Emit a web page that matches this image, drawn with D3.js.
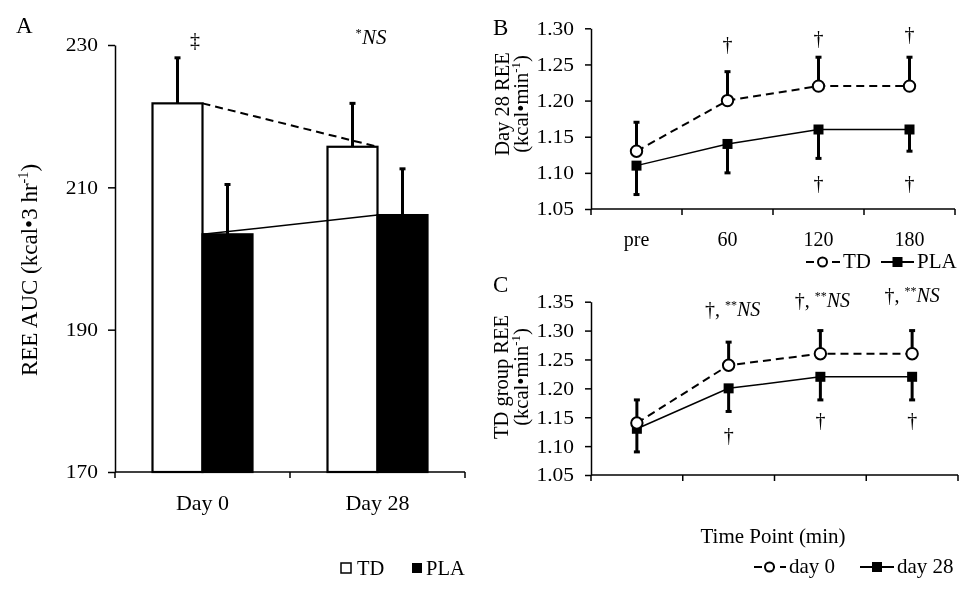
<!DOCTYPE html>
<html><head><meta charset="utf-8">
<script src="https://cdn.jsdelivr.net/npm/d3@7"></script>
<style>
body{margin:0;background:#fff}
svg{will-change:transform}
svg text{font-family:"Liberation Serif","Times New Roman",serif;fill:#000}
</style></head><body>
<svg id="chart" width="976" height="591"></svg>
<script>
// ---------- data ----------
const categoriesA = ["Day 0", "Day 28"];
const groupsA = ["TD", "PLA"];
const tdAUC = [221.8, 215.7];
const tdAUCErr = [6.4, 6.1];
const plaAUC = [203.4, 206.1];
const plaAUCErr = [7.0, 6.5];
const yTicksA = [170, 190, 210, 230];

const timePoints = ["pre", "60", "120", "180"];
const tdB = [1.13, 1.20, 1.22, 1.22];
const tdBErr = [0.04, 0.04, 0.04, 0.04];
const plaB = [1.11, 1.14, 1.16, 1.16];
const plaBErr = [0.04, 0.04, 0.04, 0.03];
const yTicksB = [1.05, 1.10, 1.15, 1.20, 1.25, 1.30];

const day0C = [1.14, 1.24, 1.26, 1.26];
const day0CErr = [0.04, 0.04, 0.04, 0.04];
const day28C = [1.13, 1.20, 1.22, 1.22];
const day28CErr = [0.04, 0.04, 0.04, 0.04];
const yTicksC = [1.05, 1.10, 1.15, 1.20, 1.25, 1.30, 1.35];

const annBAbove = ["", "†", "†", "†"];
const annBBelow = ["", "", "†", "†"];
const annCAbove = ["", "†, **NS", "†, **NS", "†, **NS"];
const annCBelow = ["", "†", "†", "†"];

// ---------- helpers ----------
const svg = d3.select("#chart");

function richText(g, x, y, str, size, anchor) {
  const t = g.append("text").attr("x", x).attr("y", y)
    .attr("text-anchor", anchor || "middle").style("font-size", size + "px");
  const re = /(\*+)|(NS)|([^*N]+|N)/g;
  let m, raised = false;
  while ((m = re.exec(str)) !== null) {
    if (m[1]) {
      t.append("tspan").attr("dy", -size * 0.35).style("font-size", (size * 0.6) + "px").text(m[1]);
      raised = true;
    } else if (m[2]) {
      const ts = t.append("tspan").style("font-style", "italic").text("NS");
      if (raised) { ts.attr("dy", size * 0.35); raised = false; }
    } else {
      const ts = t.append("tspan").text(m[3]);
      if (raised) { ts.attr("dy", size * 0.35); raised = false; }
    }
  }
  return t;
}

function rotLabel(g, x, y, main, sup, tail, size) {
  const t = g.append("text").attr("transform", `translate(${x},${y}) rotate(-90)`)
    .attr("text-anchor", "middle").style("font-size", size + "px");
  t.append("tspan").text(main);
  if (sup) {
    t.append("tspan").attr("dy", -size * 0.38).style("font-size", (size * 0.62) + "px").text(sup);
    t.append("tspan").attr("dy", size * 0.38).text(tail);
  }
  return t;
}

function styleYAxis(ax) {
  const s = 1.16;
  ax.select(".domain").attr("stroke", "#000").attr("stroke-width", 1.5);
  ax.selectAll(".tick line").attr("stroke", "#000").attr("stroke-width", 1.5);
  ax.selectAll(".tick text")
    .attr("x", -17 / s)
    .attr("transform", `scale(${s},1)`)
    .style("font-size", "18.5px")
    .style("font-family", '"Liberation Serif","Times New Roman",serif')
    .attr("fill", "#000");
}

// ---------- Panel A ----------
const gA = svg.append("g");
const xA = d3.scaleBand().domain(categoriesA).range([115, 465]).padding(0);
const xAsub = d3.scaleBand().domain(groupsA).range([0, xA.bandwidth()]).paddingInner(0).paddingOuter(0.75);
const yA = d3.scaleLinear().domain([170, 230]).range([472, 45]);
const bw = xAsub.bandwidth();

const barsA = [];
categoriesA.forEach((c, i) => {
  barsA.push({ cat: c, grp: "TD", v: tdAUC[i], e: tdAUCErr[i] });
  barsA.push({ cat: c, grp: "PLA", v: plaAUC[i], e: plaAUCErr[i] });
});

gA.selectAll("rect.bar").data(barsA).enter().append("rect")
  .attr("x", d => xA(d.cat) + xAsub(d.grp))
  .attr("y", d => yA(d.v))
  .attr("width", bw)
  .attr("height", d => yA(170) - yA(d.v))
  .attr("fill", d => d.grp === "TD" ? "#fff" : "#000")
  .attr("stroke", "#000").attr("stroke-width", 2.2);

gA.append("line")
  .attr("x1", xA(categoriesA[0]) + xAsub("TD") + bw).attr("y1", yA(tdAUC[0]))
  .attr("x2", xA(categoriesA[1]) + xAsub("TD") + bw).attr("y2", yA(tdAUC[1]))
  .attr("stroke", "#000").attr("stroke-width", 2).attr("stroke-dasharray", "8,5");
gA.append("line")
  .attr("x1", xA(categoriesA[0]) + xAsub("PLA")).attr("y1", yA(plaAUC[0]))
  .attr("x2", xA(categoriesA[1]) + xAsub("PLA")).attr("y2", yA(plaAUC[1]))
  .attr("stroke", "#000").attr("stroke-width", 1.5);

barsA.forEach(d => {
  const cx = xA(d.cat) + xAsub(d.grp) + bw / 2;
  gA.append("line").attr("x1", cx).attr("x2", cx)
    .attr("y1", yA(d.v)).attr("y2", yA(d.v + d.e))
    .attr("stroke", "#000").attr("stroke-width", 3);
  gA.append("line").attr("x1", cx - 3).attr("x2", cx + 3)
    .attr("y1", yA(d.v + d.e)).attr("y2", yA(d.v + d.e))
    .attr("stroke", "#000").attr("stroke-width", 3);
});

const axA = gA.append("g").attr("transform", "translate(115,0)")
  .call(d3.axisLeft(yA).tickValues(yTicksA).tickSize(7).tickSizeOuter(0).tickFormat(d3.format("d")));
styleYAxis(axA);

gA.append("line").attr("x1", xA.range()[0]).attr("x2", xA.range()[1])
  .attr("y1", yA(170)).attr("y2", yA(170)).attr("stroke", "#000").attr("stroke-width", 1.5);
const bndA = categoriesA.map(c => xA(c)).concat([xA.range()[1]]);
bndA.forEach(x => gA.append("line").attr("x1", x).attr("x2", x)
  .attr("y1", yA(170)).attr("y2", yA(170) + 6).attr("stroke", "#000").attr("stroke-width", 1.5));
categoriesA.forEach(c => gA.append("text").attr("x", xA(c) + xA.bandwidth() / 2).attr("y", 510)
  .attr("text-anchor", "middle").style("font-size", "22px").text(c));

rotLabel(gA, 37, 270, "REE AUC (kcal•3 hr", "-1", ")", 23);
gA.append("text").attr("x", 16).attr("y", 33).style("font-size", "23px").text("A");
richText(gA, 195, 47, "‡", 20);
richText(gA, 371, 44, "*NS", 21);

gA.append("rect").attr("x", 341).attr("y", 563).attr("width", 10).attr("height", 10)
  .attr("fill", "#fff").attr("stroke", "#000").attr("stroke-width", 1.5);
gA.append("text").attr("x", 357).attr("y", 575).style("font-size", "20.5px").text("TD");
gA.append("rect").attr("x", 412).attr("y", 563).attr("width", 10).attr("height", 10).attr("fill", "#000");
gA.append("text").attr("x", 426).attr("y", 575).style("font-size", "20.5px").text("PLA");

// ---------- line panels ----------
function linePanel(o) {
  const g = svg.append("g");
  const x = d3.scaleBand().domain(timePoints).range(o.xRange).padding(0);
  const y = d3.scaleLinear().domain(o.yDomain).range(o.yRange);
  const cx = d => x(d) + x.bandwidth() / 2;

  const ax = g.append("g").attr("transform", `translate(${o.xRange[0]},0)`)
    .call(d3.axisLeft(y).tickValues(o.yTicks).tickSize(6).tickSizeOuter(0).tickFormat(d3.format(".2f")));
  styleYAxis(ax);

  const y0 = y(o.yDomain[0]);
  g.append("line").attr("x1", o.xRange[0]).attr("x2", o.xRange[1]).attr("y1", y0).attr("y2", y0)
    .attr("stroke", "#000").attr("stroke-width", 1.5);
  timePoints.map(t => x(t)).concat([o.xRange[1]]).forEach(xx =>
    g.append("line").attr("x1", xx).attr("x2", xx).attr("y1", y0).attr("y2", y0 + 6)
      .attr("stroke", "#000").attr("stroke-width", 1.5));
  if (o.showTickLabels) {
    timePoints.forEach(t => g.append("text").attr("x", cx(t)).attr("y", 246)
      .attr("text-anchor", "middle").style("font-size", "20px").text(t));
  }

  const openPts = timePoints.map((t, i) => ({ t, v: o.open[i], e: o.openErr[i] }));
  const fillPts = timePoints.map((t, i) => ({ t, v: o.fill[i], e: o.fillErr[i] }));

  openPts.forEach(d => {
    g.append("line").attr("x1", cx(d.t)).attr("x2", cx(d.t)).attr("y1", y(d.v)).attr("y2", y(d.v + d.e))
      .attr("stroke", "#000").attr("stroke-width", 3);
    g.append("line").attr("x1", cx(d.t) - 3).attr("x2", cx(d.t) + 3).attr("y1", y(d.v + d.e)).attr("y2", y(d.v + d.e))
      .attr("stroke", "#000").attr("stroke-width", 3);
  });
  fillPts.forEach(d => {
    g.append("line").attr("x1", cx(d.t)).attr("x2", cx(d.t)).attr("y1", y(d.v)).attr("y2", y(d.v - d.e))
      .attr("stroke", "#000").attr("stroke-width", 3);
    g.append("line").attr("x1", cx(d.t) - 3).attr("x2", cx(d.t) + 3).attr("y1", y(d.v - d.e)).attr("y2", y(d.v - d.e))
      .attr("stroke", "#000").attr("stroke-width", 3);
  });

  const line = d3.line().x(d => cx(d.t)).y(d => y(d.v));
  g.append("path").datum(openPts).attr("d", line).attr("fill", "none")
    .attr("stroke", "#000").attr("stroke-width", 2).attr("stroke-dasharray", "8,5");
  g.append("path").datum(fillPts).attr("d", line).attr("fill", "none")
    .attr("stroke", "#000").attr("stroke-width", 1.5);

  g.selectAll("rect.m").data(fillPts).enter().append("rect")
    .attr("x", d => cx(d.t) - 5).attr("y", d => y(d.v) - 5).attr("width", 10).attr("height", 10).attr("fill", "#000");
  g.selectAll("circle.m").data(openPts).enter().append("circle")
    .attr("cx", d => cx(d.t)).attr("cy", d => y(d.v)).attr("r", 5.7)
    .attr("fill", "#fff").attr("stroke", "#000").attr("stroke-width", 2);

  o.annAbove.forEach((a, i) => { if (a) richText(g, cx(timePoints[i]) + o.aboveDx[i], o.aboveY[i], a, 20); });
  o.annBelow.forEach((a, i) => { if (a) richText(g, cx(timePoints[i]), o.belowY[i], a, 20); });

  g.append("text").attr("x", 493).attr("y", o.letterY).style("font-size", "23px").text(o.letter);
  rotLabel(g, o.lab1X, o.labY, o.lab1, null, null, 20.5);
  rotLabel(g, o.lab2X, o.labY, "(kcal•min", "-1", ")", 20.5);

  const ly = o.legendY;
  const L = o.legend;
  g.append("line").attr("x1", L.a0).attr("x2", L.a1).attr("y1", ly).attr("y2", ly)
    .attr("stroke", "#000").attr("stroke-width", 2).attr("stroke-dasharray", "8,5").attr("stroke-dashoffset", -1);
  g.append("circle").attr("cx", (L.a0 + L.a1) / 2).attr("cy", ly).attr("r", 4.5)
    .attr("fill", "#fff").attr("stroke", "#000").attr("stroke-width", 2);
  g.append("text").attr("x", L.a1 + 3).attr("y", ly + 6).style("font-size", "21px").text(L.t1);
  g.append("line").attr("x1", L.b0).attr("x2", L.b1).attr("y1", ly).attr("y2", ly)
    .attr("stroke", "#000").attr("stroke-width", 2);
  g.append("rect").attr("x", (L.b0 + L.b1) / 2 - 5).attr("y", ly - 5).attr("width", 10).attr("height", 10).attr("fill", "#000");
  g.append("text").attr("x", L.b1 + 3).attr("y", ly + 6).style("font-size", "21px").text(L.t2);
  return g;
}

linePanel({
  xRange: [591, 955], yDomain: [1.05, 1.30], yRange: [209, 28.3], yTicks: yTicksB,
  open: tdB, openErr: tdBErr, fill: plaB, fillErr: plaBErr, showTickLabels: true,
  annAbove: annBAbove, aboveY: [0, 51, 45, 41], aboveDx: [0, 0, 0, 0],
  annBelow: annBBelow, belowY: [0, 0, 190, 190],
  letter: "B", letterY: 35, lab1: "Day 28 REE", lab1X: 509, lab2X: 528, labY: 104,
  legendY: 262, legend: { a0: 805, a1: 840, t1: "TD", b0: 881, b1: 914, t2: "PLA" }
});

const gC = linePanel({
  xRange: [591, 958], yDomain: [1.05, 1.35], yRange: [475, 301.7], yTicks: yTicksC,
  open: day0C, openErr: day0CErr, fill: day28C, fillErr: day28CErr, showTickLabels: false,
  annAbove: annCAbove, aboveY: [0, 316, 307, 302], aboveDx: [0, 4, 2, 0],
  annBelow: annCBelow, belowY: [0, 442, 427, 427],
  letter: "C", letterY: 292, lab1: "TD group REE", lab1X: 508, lab2X: 528, labY: 377,
  legendY: 567, legend: { a0: 753, a1: 786, t1: "day 0", b0: 860, b1: 894, t2: "day 28" }
});
gC.append("text").attr("x", 773).attr("y", 543).attr("text-anchor", "middle")
  .style("font-size", "21px").text("Time Point (min)");
</script>
</body></html>
